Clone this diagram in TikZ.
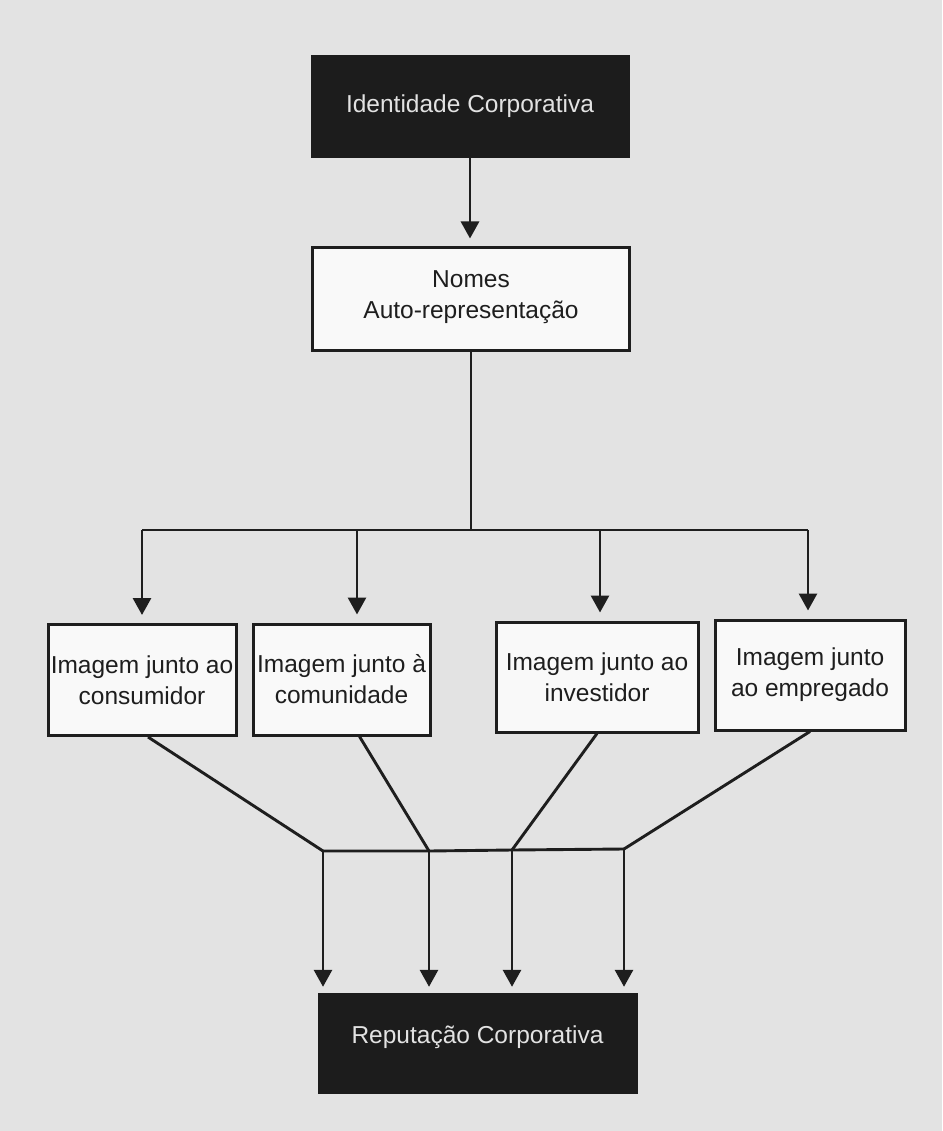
\documentclass[tikz,border=0pt]{standalone}
\usepackage{fontspec}
\setmainfont{Liberation Sans}
\usetikzlibrary{arrows.meta}
\definecolor{paper}{HTML}{E3E3E3}
\definecolor{ink}{HTML}{1E1E1E}
\definecolor{darkfill}{HTML}{1C1C1C}
\definecolor{lighttext}{HTML}{E2E2E2}
\definecolor{boxwhite}{HTML}{F9F9F9}
\begin{document}
\begin{tikzpicture}[x=1pt,y=-1pt,
  every node/.style={font=\fontsize{24.5}{31}\selectfont, inner sep=0pt, align=center},
  darkbox/.style={rectangle, fill=darkfill, draw=darkfill, text=lighttext},
  whitebox/.style={rectangle, fill=boxwhite, draw=ink, line width=3pt, text=ink},
  conn/.style={draw=ink, line width=2.9pt},
  arrowconn/.style={conn, -{Triangle[width=18pt,length=17pt]}, shorten >=8pt}
]
\useasboundingbox (0,0) rectangle (942,1131);
\fill[paper] (0,0) rectangle (942,1131);

% main boxes
\node[darkbox, minimum width=318pt, minimum height=102pt] (id) at (470,106) {Identidade Corporativa};
\node[whitebox, minimum width=317pt, minimum height=102pt, text depth=8pt] (nomes) at (471,299) {Nomes\\Auto-representação};

\node[whitebox, minimum width=188pt, minimum height=111pt] (b1) at (142,680) {Imagem junto ao\\consumidor};
\node[whitebox, minimum width=177pt, minimum height=111pt] (b2) at (341.5,679.5) {Imagem junto à\\comunidade};
\node[whitebox, minimum width=202pt, minimum height=110pt] (b3) at (597,677) {Imagem junto ao\\investidor};
\node[whitebox, minimum width=190pt, minimum height=110pt] (b4) at (810,675) {Imagem junto\\ao empregado};

\node[darkbox, minimum width=319pt, minimum height=100pt, text height=18pt, text depth=18pt] (rep) at (477.5,1043) {Reputação Corporativa};

% top arrow
\draw[arrowconn] (id.south) -- (id.south |- nomes.north);

% distribution bus
\coordinate (bus) at (471,530);
\coordinate (busL) at (142,530);
\coordinate (busR) at (808,530);
\coordinate (t2) at (357,530);
\coordinate (t3) at (600,530);
\draw[conn] (nomes.south) -- (bus);
\draw[conn] (busL) -- (busR);
\draw[arrowconn] (busL) -- (busL |- b1.north);
\draw[arrowconn] (t2) -- (t2 |- b2.north);
\draw[arrowconn] (t3) -- (t3 |- b3.north);
\draw[arrowconn] (busR) -- (busR |- b4.north);

% converging lines
\coordinate (j1) at (323,851);
\coordinate (j2) at (429,851);
\coordinate (j3) at (512,850);
\coordinate (j4) at (624,849);
\draw[conn] ([xshift=6pt]b1.south) -- (j1);
\draw[conn] ([xshift=18pt]b2.south) -- (j2);
\draw[conn] (b3.south) -- (j3);
\draw[conn] (b4.south) -- (j4);
\draw[conn] (j1) -- (j2) -- (j3) -- (j4);
\draw[arrowconn, shorten >=6pt] (j1) -- (j1 |- rep.north);
\draw[arrowconn, shorten >=6pt] (j2) -- (j2 |- rep.north);
\draw[arrowconn, shorten >=6pt] (j3) -- (j3 |- rep.north);
\draw[arrowconn, shorten >=6pt] (j4) -- (j4 |- rep.north);
\end{tikzpicture}
\end{document}
